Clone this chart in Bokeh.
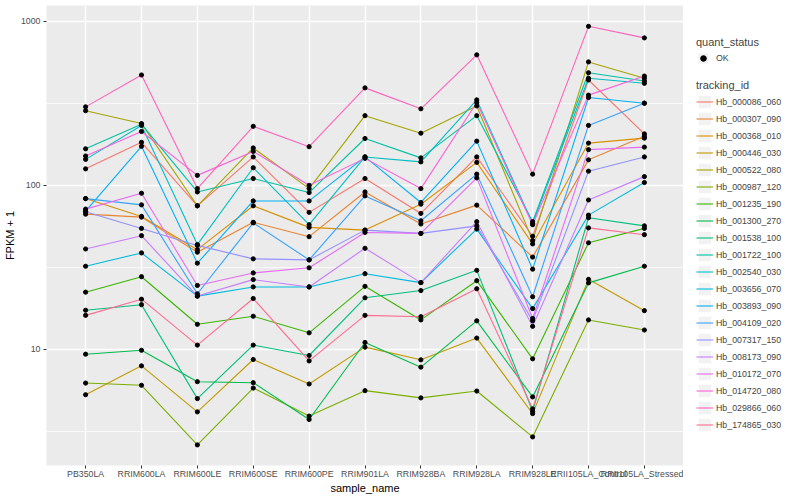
from bokeh.plotting import figure
from bokeh.layouts import row
from bokeh.models import (FactorRange, Range1d, FixedTicker, PrintfTickFormatter,
                          Legend, LegendItem, ColumnDataSource)
from bokeh.embed import file_html
from bokeh.resources import INLINE

samples = ["PB350LA", "RRIM600LA", "RRIM600LE", "RRIM600SE", "RRIM600PE",
           "RRIM901LA", "RRIM928BA", "RRIM928LA", "RRIM928LE",
           "RRII105LA_Control", "RRII105LA_Stressed"]

tracking_ids = ["Hb_000086_060", "Hb_000307_090", "Hb_000368_010", "Hb_000446_030",
                "Hb_000522_080", "Hb_000987_120", "Hb_001235_190", "Hb_001300_270",
                "Hb_001538_100", "Hb_001722_100", "Hb_002540_030", "Hb_003656_070",
                "Hb_003893_090", "Hb_004109_020", "Hb_007317_150", "Hb_008173_090",
                "Hb_010172_070", "Hb_014720_080", "Hb_029866_060", "Hb_174865_030"]

hb_000086_060 = [126, 183, 75, 149, 68.4, 110, 67.4, 149, 48.9, 439, 206]
hb_000307_090 = [66.7, 64, 39.1, 59.5, 48.6, 91.1, 58.1, 75.7, 36.5, 143, 199]
hb_000368_010 = [83, 64.6, 40.5, 75, 55.4, 53.3, 76.7, 138, 43.9, 181, 194]
hb_000446_030 = [5.28, 7.92, 4.15, 8.66, 6.14, 10.3, 8.62, 11.7, 4.05, 26.7, 17.2]
hb_000522_080 = [285, 238, 75, 169, 95.5, 266, 208, 305, 46, 566, 450]
hb_000987_120 = [6.22, 6.03, 2.61, 5.80, 3.91, 5.59, 5.05, 5.56, 2.92, 15.1, 13.1]
hb_001235_190 = [22.3, 27.7, 14.2, 15.9, 12.6, 24.2, 15.1, 26.2, 8.74, 44.6, 54.6]
hb_001300_270 = [9.33, 9.86, 6.34, 6.25, 3.73, 11.0, 7.78, 14.9, 5.12, 25.4, 32.1]
hb_001538_100 = [17.3, 18.7, 5.0, 10.6, 9.16, 20.6, 22.8, 30.3, 4.19, 63.4, 56.6]
hb_001722_100 = [167, 236, 91.1, 110, 90.3, 193, 147, 266, 60, 486, 433]
hb_002540_030 = [144, 232, 43.5, 128, 57.5, 149, 139, 332, 58.6, 450, 419]
hb_003656_070 = [32.1, 38.7, 21.1, 24.0, 24.0, 28.9, 25.5, 54.1, 17.7, 65.8, 104]
hb_003893_090 = [69.5, 173, 33.5, 80.3, 80.3, 149, 78.6, 186, 30.8, 343, 317]
hb_004109_020 = [83, 76, 21.8, 59, 35.1, 86.2, 60.8, 117, 20.9, 232, 317]
hb_007317_150 = [68.9, 54.6, 43, 35.6, 35.1, 53.3, 50.9, 56.6, 14.9, 122, 149]
hb_008173_090 = [40.9, 49.3, 21.1, 26.6, 24.0, 41.3, 25.5, 60, 13.8, 81.4, 113]
hb_010172_070 = [71.6, 89.5, 24.5, 29.2, 31.4, 51.6, 50.9, 111, 15.4, 165, 171]
hb_014720_080 = [151, 213, 115, 161, 100, 146, 95.5, 320, 57.5, 355, 464]
hb_029866_060 = [301, 471, 95.5, 229, 172, 393, 293, 625, 117, 933, 793]
hb_174865_030 = [16.1, 20.2, 10.6, 20.4, 8.49, 16.1, 15.8, 23.4, 4.33, 55, 50]

series_values = [hb_000086_060, hb_000307_090, hb_000368_010, hb_000446_030,
                 hb_000522_080, hb_000987_120, hb_001235_190, hb_001300_270,
                 hb_001538_100, hb_001722_100, hb_002540_030, hb_003656_070,
                 hb_003893_090, hb_004109_020, hb_007317_150, hb_008173_090,
                 hb_010172_070, hb_014720_080, hb_029866_060, hb_174865_030]

colors = ["#F8766D", "#EA8331", "#D89000", "#C09B00", "#A3A500", "#7CAE00", "#39B600",
          "#00BB4E", "#00BF7D", "#00C1A3", "#00BFC4", "#00BAE0", "#00B0F6", "#35A2FF",
          "#9590FF", "#C77CFF", "#E76BF3", "#FA62DB", "#FF62BC", "#FF6C91"]

quant_status = ["OK"]

y_ticks = [10, 100, 1000]
y_minor = [10 ** 0.5, 10 ** 1.5, 10 ** 2.5]

FONT = "Liberation Sans"

# ---------------- main panel ----------------
p = figure(x_range=FactorRange(factors=samples, range_padding=0.2,
                               range_padding_units="absolute"),
           y_range=Range1d(1.954, 1250), y_axis_type="log",
           width=683, height=496, output_backend="svg", toolbar_location=None,
           min_border_left=45, min_border_right=0, min_border_top=5,
           min_border_bottom=28, x_axis_label="sample_name", y_axis_label="FPKM + 1")

p.background_fill_color = "#EBEBEB"
p.border_fill_color = "white"
p.outline_line_color = None

yt = FixedTicker(ticks=y_ticks, minor_ticks=y_minor)
p.yaxis.ticker = yt
p.ygrid.ticker = yt
p.yaxis.formatter = PrintfTickFormatter(format="%d")

for ax in (p.xaxis[0], p.yaxis[0]):
    ax.axis_line_color = None
    ax.major_tick_line_color = "#333333"
    ax.major_tick_out = 3
    ax.major_tick_in = 0
    ax.minor_tick_line_color = None
    ax.major_label_text_font = FONT
    ax.major_label_text_font_size = "8.8px"
    ax.major_label_text_color = "#4D4D4D"
    ax.axis_label_text_font = FONT
    ax.axis_label_text_font_size = "11px"
    ax.axis_label_text_font_style = "normal"
    ax.axis_label_text_color = "black"
p.xaxis.major_label_standoff = 0
p.xaxis.axis_label_standoff = 0
p.yaxis.major_label_standoff = 2
p.yaxis.axis_label_standoff = 2

p.xgrid.grid_line_color = "white"
p.xgrid.grid_line_width = 1.4
p.ygrid.grid_line_color = "white"
p.ygrid.grid_line_width = 1.4
p.ygrid.minor_grid_line_color = "white"
p.ygrid.minor_grid_line_width = 0.7

all_x, all_y = [], []
for vals, col in zip(series_values, colors):
    p.line(x=samples, y=vals, line_color=col, line_width=1.1)
    all_x.extend(samples)
    all_y.extend(vals)

points_src = ColumnDataSource(dict(x=all_x, y=all_y))
p.scatter(x="x", y="y", source=points_src, marker="circle", size=4.2,
          fill_color="black", line_color="black")

# ---------------- legend panel ----------------
# Same data, but the y range lies far below it, so the glyphs themselves stay hidden;
# they only provide the legend keys.
lg = figure(width=113, height=496, x_range=FactorRange(factors=samples),
            y_range=Range1d(-2, -1), output_backend="svg", toolbar_location=None,
            x_axis_location=None, y_axis_location=None, min_border=0)
lg.outline_line_color = None
lg.background_fill_color = "white"
lg.border_fill_color = "white"
lg.grid.visible = False

key_bg = lg.rect(x="x", y="y", source=points_src, width=0.1, height=0.1,
                 fill_color="#F2F2F2", line_color="white", line_width=1)
key_dot = lg.scatter(x="x", y="y", source=points_src, marker="circle",
                     fill_color="black", line_color="black")

items = []
for tid, vals, col in zip(tracking_ids, series_values, colors):
    kr = lg.line(x=samples, y=vals, line_color=col, line_width=1.1)
    items.append(LegendItem(label=tid, renderers=[key_bg, kr]))

leg_track = Legend(items=items, title="tracking_id", location=(13, 32),
                   orientation="vertical", glyph_width=17, glyph_height=17,
                   label_height=17, spacing=0, label_standoff=3, padding=0, margin=0,
                   background_fill_alpha=0, border_line_color=None,
                   label_text_font=FONT, label_text_font_size="8.8px",
                   title_text_font=FONT, title_text_font_size="11px",
                   title_text_font_style="normal", title_standoff=2)
lg.add_layout(leg_track)

leg_q = Legend(items=[LegendItem(label=quant_status[0], renderers=[key_bg, key_dot])],
               title="quant_status", location=(13, 400), orientation="vertical",
               glyph_width=14, glyph_height=14, label_height=14, label_standoff=6,
               padding=0, margin=0, background_fill_alpha=0, border_line_color=None,
               label_text_font=FONT, label_text_font_size="8.8px",
               title_text_font=FONT, title_text_font_size="11px",
               title_text_font_style="normal", title_standoff=3)
lg.add_layout(leg_q)

layout = row(p, lg)
open("out.html", "w").write(file_html(layout, INLINE))
